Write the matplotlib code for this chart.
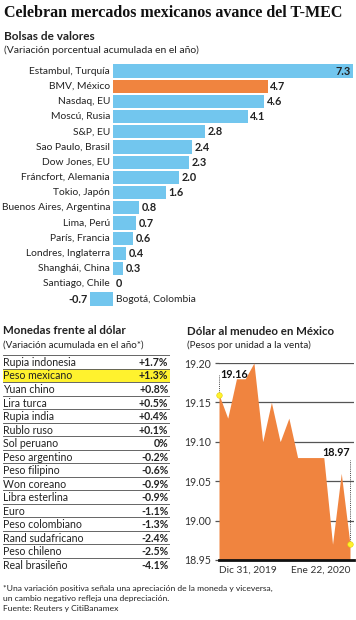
import matplotlib
matplotlib.use("Agg")
import matplotlib.pyplot as plt
from matplotlib.patches import Rectangle

# ---------------- data ----------------
bolsas = ["Estambul, Turquía", "BMV, México", "Nasdaq, EU", "Moscú, Rusia", "S&P, EU",
          "Sao Paulo, Brasil", "Dow Jones, EU", "Fráncfort, Alemania", "Tokio, Japón",
          "Buenos Aires, Argentina", "Lima, Perú", "París, Francia", "Londres, Inglaterra",
          "Shanghái, China", "Santiago, Chile", "Bogotá, Colombia"]
bolsas_val = [7.3, 4.7, 4.6, 4.1, 2.8, 2.4, 2.3, 2.0, 1.6, 0.8, 0.7, 0.6, 0.4, 0.3, 0.0, -0.7]
bolsas_lbl = ["7.3", "4.7", "4.6", "4.1", "2.8", "2.4", "2.3", "2.0", "1.6", "0.8", "0.7",
              "0.6", "0.4", "0.3", "0", "-0.7"]

monedas = ["Rupia indonesia", "Peso mexicano", "Yuan chino", "Lira turca", "Rupia india",
           "Rublo ruso", "Sol peruano", "Peso argentino", "Peso filipino", "Won coreano",
           "Libra esterlina", "Euro", "Peso colombiano", "Rand sudafricano", "Peso chileno",
           "Real brasileño"]
monedas_val = ["+1.7%", "+1.3%", "+0.8%", "+0.5%", "+0.4%", "+0.1%", "0%", "-0.2%", "-0.6%",
               "-0.9%", "-0.9%", "-1.1%", "-1.3%", "-2.4%", "-2.5%", "-4.1%"]

dolar = [19.16, 19.13, 19.18, 19.18, 19.20, 19.10, 19.15, 19.10, 19.13, 19.08, 19.08,
         19.08, 19.08, 18.97, 19.06, 18.97]
dolar_ticks = [18.95, 19.00, 19.05, 19.10, 19.15, 19.20]
dolar_xlabels = ["Dic 31, 2019", "Ene 22, 2020"]

# ---------------- style ----------------
BLUE = "#72C6EE"
ORANGE = "#F0843F"
YELLOW = "#FFF22E"
TXT = "#222222"
SANS = ["Lato", "DejaVu Sans"]
plt.rcParams["font.family"] = SANS

W, H = 356, 620
fig = plt.figure(figsize=(W / 100, H / 100), dpi=100)
fig.patch.set_facecolor("white")


def fy(py):
    return 1 - py / H


def fx(px):
    return px / W


# headers
fig.text(fx(4), fy(13), "Celebran mercados mexicanos avance del T-MEC", family=["Liberation Serif"],
         fontweight="bold", fontsize=11.5, color="#111111", va="center", ha="left")
fig.text(fx(4), fy(36.5), "Bolsas de valores", fontweight="bold", fontsize=8.5, color=TXT,
         va="center", ha="left")
fig.text(fx(4), fy(50), "(Variación porcentual acumulada en el año)", fontsize=7.5, color=TXT,
         va="center", ha="left")

# ---------------- bar chart ----------------
top, step = 71, 15.2
n = len(bolsas)
ax = fig.add_axes([fx(113), fy(top + (n - 0.5) * step), fx(240), (n * step) / H])
ax.set_xlim(0, 7.3)
ax.set_ylim(n - 0.5, -0.5)
ax.axis("off")
ys = list(range(n))
colors = [ORANGE if b.startswith("BMV") else BLUE for b in bolsas]
ax.barh(ys, bolsas_val, height=0.87, color=colors, clip_on=False)
for i, (name, v, lab) in enumerate(zip(bolsas, bolsas_val, bolsas_lbl)):
    if v < 0:
        ax.text(v - 0.08, i, lab, ha="right", va="center", fontsize=7.8, fontweight="bold",
                color=TXT)
        ax.text(0.08, i, name, ha="left", va="center", fontsize=7.4, color=TXT)
    else:
        ax.text(-0.09, i, name, ha="right", va="center", fontsize=7.4, color=TXT)
        if i == 0:
            ax.text(v - 0.06, i, lab, ha="right", va="center", fontsize=7.8,
                    fontweight="bold", color=TXT)
        else:
            ax.text(v + 0.08, i, lab, ha="left", va="center", fontsize=7.8,
                    fontweight="bold", color=TXT)

# ---------------- currency table ----------------
fig.text(fx(3), fy(330), "Monedas frente al dólar", fontweight="bold", fontsize=8.3, color=TXT,
         va="center", ha="left")
fig.text(fx(3), fy(345), "(Variación acumulada en el año*)", fontsize=7.1, color=TXT,
         va="center", ha="left")
t_top, t_bot = 355, 571.5
tax = fig.add_axes([fx(3), fy(t_bot), fx(167), (t_bot - t_top) / H])
tax.set_xlim(0, 1)
tax.set_ylim(len(monedas), 0)
tax.axis("off")
tax.add_patch(Rectangle((0, 1), 1, 1, facecolor=YELLOW, edgecolor="none", zorder=0))
for k in range(len(monedas) + 1):
    tax.axhline(k, color="#5a5a5a", lw=0.65, zorder=1)
for i, (m, v) in enumerate(zip(monedas, monedas_val)):
    tax.text(0.0, i + 0.55, m, ha="left", va="center", fontsize=7.6, color=TXT)
    tax.text(0.99, i + 0.55, v, ha="right", va="center", fontsize=7.6, fontweight="bold",
             color=TXT)

# footnote
fig.text(fx(3), fy(588.5), "*Una variación positiva señala una apreciación de la moneda y viceversa,",
         fontsize=6.1, color=TXT, va="center", ha="left")
fig.text(fx(3), fy(598.5), "un cambio negativo refleja una depreciación.", fontsize=6.1,
         color=TXT, va="center", ha="left")
fig.text(fx(3), fy(609), "Fuente: Reuters y CitiBanamex", fontsize=6.1, color=TXT,
         va="center", ha="left")

# ---------------- dollar area chart ----------------
fig.text(fx(187), fy(331.5), "Dólar al menudeo en México", fontweight="bold", fontsize=8.3,
         color=TXT, va="center", ha="left")
fig.text(fx(187), fy(345), "(Pesos por unidad a la venta)", fontsize=7.1, color=TXT,
         va="center", ha="left")

a_top, a_bot, a_left, a_right = 363, 560, 219, 354
dax = fig.add_axes([fx(a_left), fy(a_bot), fx(a_right - a_left), (a_bot - a_top) / H])
xs = list(range(len(dolar)))
dax.set_xlim(0, (len(dolar) - 1) * (a_right - a_left) / 131)
dax.set_ylim(18.95, 19.20)
dax.fill_between(xs, dolar, 18.95, color=ORANGE, lw=0, zorder=2)
dax.set_yticks(dolar_ticks)
dax.set_yticklabels([f"{t:.2f}" for t in dolar_ticks], fontsize=7.6, color="#333333")
dax.yaxis.grid(True, color="#555555", lw=0.9, zorder=0)
dax.set_axisbelow(True)
dax.tick_params(axis="y", length=3, width=0.9, color="#555555", pad=3)
dax.set_xticks([])
for s in ["top", "right", "left"]:
    dax.spines[s].set_visible(False)
dax.spines["bottom"].set_color("#111111")
dax.spines["bottom"].set_linewidth(2)
dax.spines["bottom"].set_zorder(5)
dax.set_facecolor("none")

# x labels
dax.text(0, -0.03, dolar_xlabels[0], transform=dax.get_xaxis_transform(), ha="left", va="top",
         fontsize=7.3, color="#333333")
dax.text(len(dolar) - 1 + 0.1, -0.03, dolar_xlabels[1], transform=dax.get_xaxis_transform(),
         ha="right", va="top", fontsize=7.3, color="#333333")

# markers and value labels
first, last = dolar[0], dolar[-1]
dax.plot([0, 0], [first, 19.185], ls=(0, (1, 1.2)), color="#444444", lw=0.7, zorder=3,
         clip_on=False)
dax.plot([xs[-1], xs[-1]], [last, 19.077], ls=(0, (1, 1.2)), color="#444444", lw=0.7,
         zorder=3, clip_on=False)
dax.scatter([0, xs[-1]], [first, last], s=16, color=YELLOW, edgecolor="#e6d200", lw=0.4,
            zorder=4, clip_on=False)
dax.text(0.2, 19.186, f"{first:.2f}", ha="left", va="center", fontsize=7.8, fontweight="bold",
         color="#111111")
dax.text(xs[-1] + 0.05, 19.086, f"{last:.2f}", ha="right", va="center", fontsize=7.8,
         fontweight="bold", color="#111111")

fig.savefig("out.png", dpi=100)
